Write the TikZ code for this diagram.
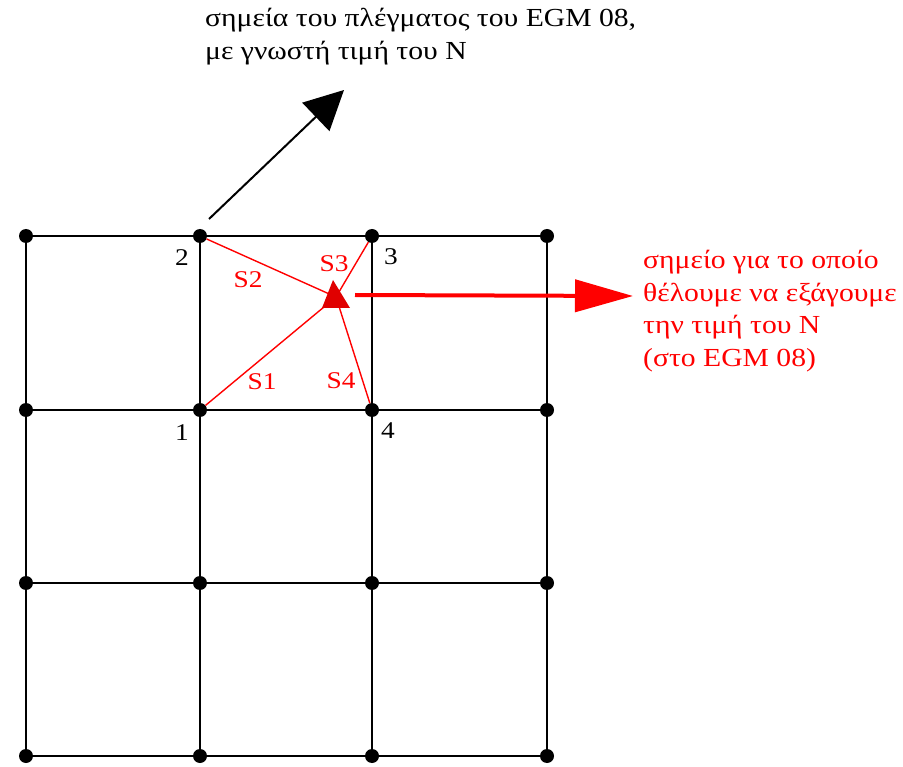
\documentclass[tikz,border=0pt]{standalone}
\usepackage{fontspec}
\setmainfont{Liberation Serif}
\newfontfamily\notefont[FakeStretch=1.14]{Liberation Serif}
\usetikzlibrary{arrows.meta, positioning}

\begin{document}
\begin{tikzpicture}[
  x=1pt, y=-1pt,
  gridpt/.style={circle, fill=black, inner sep=0pt, minimum size=14pt},
  gridline/.style={line width=2pt, black},
  distline/.style={red, line width=1.4pt},
  lbl/.style={font=\notefont\fontsize{24}{32.5}\selectfont, inner sep=0pt},
  note/.style={font=\notefont\fontsize{26}{32.5}\selectfont, inner sep=0pt,
    anchor=north west, align=left},
]
\useasboundingbox (0,0) rectangle (903,767);

% --- Grid of EGM 08 points ---
\foreach \c/\x in {1/26, 2/200, 3/372, 4/547} {
  \foreach \r/\y in {1/236, 2/410, 3/583, 4/756} {
    \node[gridpt] (g\c\r) at (\x,\y) {};
  }
}
\foreach \a in {1,...,4} {
  \draw[gridline] (g1\a.center) -- (g4\a.center);
  \draw[gridline] (g\a1.center) -- (g\a4.center);
}

% --- Corner numbers ---
\node[lbl] (n1) at (182,433) {1};
\node[lbl] (n2) at (182,258) {2};
\node[lbl] (n3) at (391,257) {3};
\node[lbl] (n4) at (388,431) {4};

% --- Target point and distances ---
\coordinate (P) at (336,297);
\draw[distline] (g22) -- (P);
\draw[distline] (g21) -- (P);
\draw[distline] (g31) -- (P);
\draw[distline] (g32) -- (P);
\fill[red!88!black] (P) ++(-14,11) -- ++(28,0) -- ++(-17,-28) -- cycle;

\node[lbl, red] (s1) at (262,382) {S1};
\node[lbl, red] (s2) at (248,280) {S2};
\node[lbl, red] (s3) at (334,264) {S3};
\node[lbl, red] (s4) at (341,381) {S4};

% Arrows
\coordinate (bstart) at (209,219);
\coordinate (btip) at (344,90);
\draw[line width=2pt, -{Triangle[length=39pt, width=39pt]}] (bstart) -- (btip);

\coordinate (rstart) at (355,295);
\coordinate (rtip) at (633,296);
\draw[red, line width=4pt, -{Triangle[length=58pt, width=32pt]}] (rstart) -- (rtip);

% --- Notes ---
\node[note] (gridnote) at (205,8)
  {σημεία του πλέγματος του EGM 08,\\με γνωστή τιμή του N};
\node[note, red] (targetnote) at (643,250)
  {σημείο για το οποίο\\θέλουμε να εξάγουμε\\την τιμή του N\\(στο EGM 08)};

\end{tikzpicture}
\end{document}
